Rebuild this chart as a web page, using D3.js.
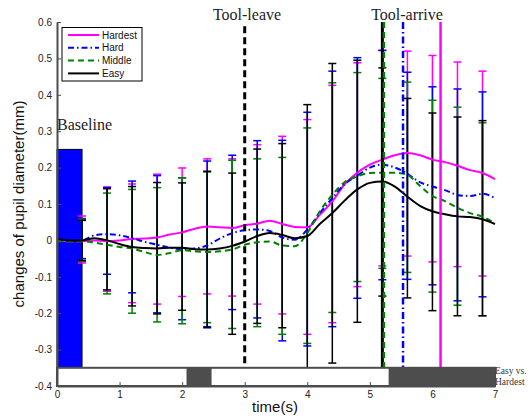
<!DOCTYPE html>
<html lang="en">
  <head>
    <meta charset="UTF-8" />
    <title>Pupil diameter</title>
    <script src="https://d3js.org/d3.v7.min.js"></script>
    <style>
      body {
        margin: 0;
        background-color: #fff;
      }
      svg text {
        font-family: "Liberation Sans", Arial, sans-serif;
      }
      .serif {
        font-family: "Liberation Serif", "Times New Roman", serif !important;
      }
      .axis path,
      .axis line {
        stroke: #4d4d4d;
      }
      .axis path {
        stroke-width: 2;
      }
      .axis text {
        font-size: 10px;
        fill: #222;
      }
    </style>
  </head>
  <body>
    <div id="chart"></div>
    <script>
      // mean curves
      const times = [0, 0.2, 0.4, 0.6, 0.8, 1.0, 1.2, 1.4, 1.6, 1.8, 2.0, 2.2, 2.4, 2.6, 2.8, 3.0, 3.2, 3.4,
        3.6, 3.8, 4.0, 4.2, 4.4, 4.6, 4.8, 5.0, 5.2, 5.4, 5.6, 5.8, 6.0, 6.2, 6.4, 6.6, 6.8, 7.0];
      const hardest = [0, -0.002, -0.002, 0.0, -0.002, 0.0, 0.004, 0.005, 0.008, 0.016, 0.022, 0.032, 0.038,
        0.036, 0.034, 0.042, 0.046, 0.054, 0.045, 0.037, 0.036, 0.07, 0.107, 0.155, 0.186, 0.208, 0.222,
        0.234, 0.24, 0.234, 0.222, 0.215, 0.205, 0.193, 0.185, 0.168];
      const hard = [0, -0.002, 0.0, 0.014, 0.017, 0.014, 0.006, -0.004, -0.012, -0.02, -0.024, -0.022, -0.014,
        0.005, 0.02, 0.028, 0.03, 0.026, 0.008, 0.002, 0.03, 0.075, 0.116, 0.155, 0.178, 0.2, 0.208, 0.2,
        0.183, 0.16, 0.148, 0.138, 0.125, 0.122, 0.128, 0.116];
      const middle = [-0.002, -0.003, -0.002, -0.006, -0.012, -0.018, -0.022, -0.032, -0.04, -0.035, -0.027,
        -0.03, -0.032, -0.03, -0.025, -0.012, -0.005, -0.003, -0.014, -0.016, 0.02, 0.08, 0.125, 0.16, 0.176,
        0.185, 0.186, 0.186, 0.18, 0.15, 0.122, 0.108, 0.09, 0.075, 0.065, 0.047];
      const easy = [0.003, 0.0, 0.0, 0.006, 0.0, -0.01, -0.018, -0.021, -0.022, -0.02, -0.02, -0.024, -0.025,
        -0.022, -0.015, -0.003, 0.012, 0.02, 0.015, 0.006, 0.012, 0.045, 0.075, 0.11, 0.14, 0.158, 0.162,
        0.148, 0.12, 0.095, 0.08, 0.072, 0.066, 0.064, 0.058, 0.045];

      // error bars
      const errTimes = [0.4, 0.8, 1.2, 1.6, 2.0, 2.4, 2.8, 3.2, 3.6, 4.0, 4.4, 4.8, 5.2, 5.6, 6.0, 6.4, 6.8];
      const hardestTop = [0.067, 0.147, 0.155, 0.182, 0.199, 0.224, 0.224, 0.263, 0.286, 0.332, 0.426, 0.488, 0.522, 0.52, 0.508, 0.49, 0.465];
      const hardestBot = [-0.062, -0.14, -0.171, -0.175, -0.154, -0.147, -0.153, -0.175, -0.202, -0.258, -0.226, -0.127, -0.07, -0.043, -0.059, -0.072, -0.098];
      const hardTop = [0.06, 0.145, 0.163, 0.178, 0.172, 0.218, 0.234, 0.274, 0.275, 0.352, 0.465, 0.502, 0.522, 0.462, 0.422, 0.416, 0.408];
      const hardBot = [-0.05, -0.093, -0.144, -0.199, -0.218, -0.237, -0.19, -0.213, -0.276, -0.29, -0.237, -0.159, -0.108, -0.107, -0.122, -0.166, -0.155];
      const middleTop = [0.058, 0.13, 0.14, 0.145, 0.172, 0.188, 0.22, 0.224, 0.228, 0.309, 0.433, 0.461, 0.445, 0.435, 0.385, 0.366, 0.323];
      const middleBot = [-0.058, -0.147, -0.2, -0.224, -0.229, -0.226, -0.242, -0.237, -0.258, -0.283, -0.198, -0.113, -0.077, -0.088, -0.142, -0.178, -0.207];
      const easyTop = [0.055, 0.142, 0.148, 0.159, 0.158, 0.19, 0.185, 0.251, 0.266, 0.373, 0.486, 0.495, 0.474, 0.39, 0.35, 0.339, 0.329];
      const easyBot = [-0.055, -0.136, -0.18, -0.202, -0.192, -0.24, -0.258, -0.228, -0.24, -0.35, -0.337, -0.225, -0.153, -0.158, -0.193, -0.207, -0.207];

      const seriesNames = ["Hardest", "Hard", "Middle", "Easy"];

      // events and baseline
      const baselineBar = { x0: 0, x1: 0.4, top: 0.25 };
      const toolLeave = 3.0;
      const arriveEasy = 5.2, arriveMiddle = 5.225, arriveHard = 5.53, arriveHardest = 6.13;
      // significance strip segments (easy vs hardest)
      const sigSegments = [[2.07, 2.47], [5.3, 7.0]];

      const xTicks = [0, 1, 2, 3, 4, 5, 6, 7];
      const yTicks = [-0.4, -0.3, -0.2, -0.1, 0, 0.1, 0.2, 0.3, 0.4, 0.5, 0.6];

      const width = 531, height = 420;
      const svg = d3.select("#chart").append("svg").attr("width", width).attr("height", height);

      const x = d3.scaleLinear().domain([0, 7]).range([57, 495]);
      const y = d3.scaleLinear().domain([-0.4, 0.6]).range([386, 22]);
      const stripTop = -0.35;

      const series = [
        { name: "Hardest", vals: hardest, top: hardestTop, bot: hardestBot, color: "#ff00ff", dash: null },
        { name: "Hard", vals: hard, top: hardTop, bot: hardBot, color: "#0000ff", dash: "6,3,1.5,3" },
        { name: "Middle", vals: middle, top: middleTop, bot: middleBot, color: "#008000", dash: "6,4" },
        { name: "Easy", vals: easy, top: easyTop, bot: easyBot, color: "#000000", dash: null },
      ];

      // baseline bar
      svg.append("rect")
        .attr("x", x(baselineBar.x0))
        .attr("y", y(baselineBar.top))
        .attr("width", x(baselineBar.x1) - x(baselineBar.x0))
        .attr("height", y(stripTop) - y(baselineBar.top))
        .attr("fill", "#0000ff")
        .attr("stroke", "#000")
        .attr("stroke-width", 1);

      // error bars
      const capW = 4;
      series.forEach((s) => {
        const g = svg.append("g");
        errTimes.forEach((t, i) => {
          g.append("line")
            .attr("x1", x(t)).attr("x2", x(t))
            .attr("y1", y(s.top[i])).attr("y2", y(s.bot[i]))
            .attr("stroke", s.color).attr("stroke-width", 1.5);
          [s.top[i], s.bot[i]].forEach((v) => {
            g.append("line")
              .attr("x1", x(t) - capW).attr("x2", x(t) + capW)
              .attr("y1", y(v)).attr("y2", y(v))
              .attr("stroke", s.color).attr("stroke-width", 1.5);
          });
        });
      });

      // mean curves
      const line = d3.line()
        .x((d, i) => x(times[i]))
        .y((d) => y(d))
        .curve(d3.curveMonotoneX);

      series.forEach((s) => {
        svg.append("path")
          .datum(s.vals)
          .attr("d", line)
          .attr("fill", "none")
          .attr("stroke", s.color)
          .attr("stroke-width", 2)
          .attr("stroke-dasharray", s.dash);
      });

      // event lines
      function eventLine(t, color, w, dash, from) {
        svg.append("line")
          .attr("x1", x(t)).attr("x2", x(t))
          .attr("y1", y(from)).attr("y2", y(stripTop))
          .attr("stroke", color).attr("stroke-width", w)
          .attr("stroke-dasharray", dash);
      }
      eventLine(toolLeave, "#000", 3, "7,4", 0.588);
      eventLine(arriveEasy, "#000", 3, null, 0.6);
      eventLine(arriveMiddle, "#008000", 2.5, "6,4", 0.6);
      eventLine(arriveHard, "#0000ff", 2.5, "7,3,1.5,3", 0.6);
      eventLine(arriveHardest, "#ff00ff", 2.5, null, 0.6);

      // strip
      svg.append("rect")
        .attr("x", x(0)).attr("y", y(stripTop))
        .attr("width", x(7) - x(0)).attr("height", y(-0.4) - y(stripTop))
        .attr("fill", "#fff");
      sigSegments.forEach((seg) => {
        svg.append("rect")
          .attr("x", x(seg[0])).attr("y", y(stripTop))
          .attr("width", x(seg[1]) - x(seg[0])).attr("height", y(-0.4) - y(stripTop))
          .attr("fill", "#4d4d4d");
      });
      svg.append("rect")
        .attr("x", x(0)).attr("y", y(stripTop))
        .attr("width", x(7) - x(0)).attr("height", y(-0.4) - y(stripTop))
        .attr("fill", "none").attr("stroke", "#4d4d4d").attr("stroke-width", 2);

      // axes
      svg.append("g")
        .attr("class", "axis")
        .attr("transform", `translate(0,${y(-0.4)})`)
        .call(d3.axisBottom(x).tickValues(xTicks).tickFormat(d3.format("d")).tickSizeInner(-4).tickSizeOuter(0).tickPadding(5));

      svg.append("g")
        .attr("class", "axis")
        .attr("transform", `translate(${x(0)},0)`)
        .call(d3.axisLeft(y).tickValues(yTicks).tickFormat((d) => (d === 0 ? "0" : d3.format(".1f")(d).replace("−", "-")))
          .tickSizeInner(-4).tickSizeOuter(0).tickPadding(5));

      // labels
      svg.append("text")
        .attr("x", 275).attr("y", 412)
        .attr("text-anchor", "middle")
        .style("font-size", "15px").attr("fill", "#111")
        .text("time(s)");
      svg.append("text")
        .attr("transform", "translate(24,204) rotate(-90)")
        .attr("text-anchor", "middle")
        .style("font-size", "15px").attr("fill", "#111")
        .text("changes of pupil diameter(mm)");

      svg.append("text").attr("class", "serif")
        .attr("x", 57).attr("y", 130)
        .style("font-size", "16px").attr("fill", "#222")
        .text("Baseline");
      svg.append("text").attr("class", "serif")
        .attr("x", 247).attr("y", 20).attr("text-anchor", "middle")
        .style("font-size", "16px").attr("fill", "#222")
        .text("Tool-leave");
      svg.append("text").attr("class", "serif")
        .attr("x", 407).attr("y", 20).attr("text-anchor", "middle")
        .style("font-size", "16px").attr("fill", "#222")
        .text("Tool-arrive");
      svg.append("text").attr("class", "serif")
        .attr("x", 495).attr("y", 374)
        .style("font-size", "9.5px").attr("fill", "#333")
        .text("Easy vs.");
      svg.append("text").attr("class", "serif")
        .attr("x", 495).attr("y", 385)
        .style("font-size", "9.5px").attr("fill", "#333")
        .text("Hardest");

      // legend
      const legend = svg.append("g");
      legend.append("rect")
        .attr("x", 62).attr("y", 27.5).attr("width", 80).attr("height", 53.5)
        .attr("fill", "#fff").attr("stroke", "#000").attr("stroke-width", 1);
      series.forEach((s, i) => {
        const ly = 35 + i * 12.8;
        legend.append("line")
          .attr("x1", 68).attr("x2", 99).attr("y1", ly).attr("y2", ly)
          .attr("stroke", s.color).attr("stroke-width", 2)
          .attr("stroke-dasharray", s.dash);
        legend.append("text")
          .attr("x", 102).attr("y", ly + 3.5)
          .style("font-size", "10px").attr("fill", "#111")
          .text(seriesNames[i]);
      });
    </script>
  </body>
</html>
